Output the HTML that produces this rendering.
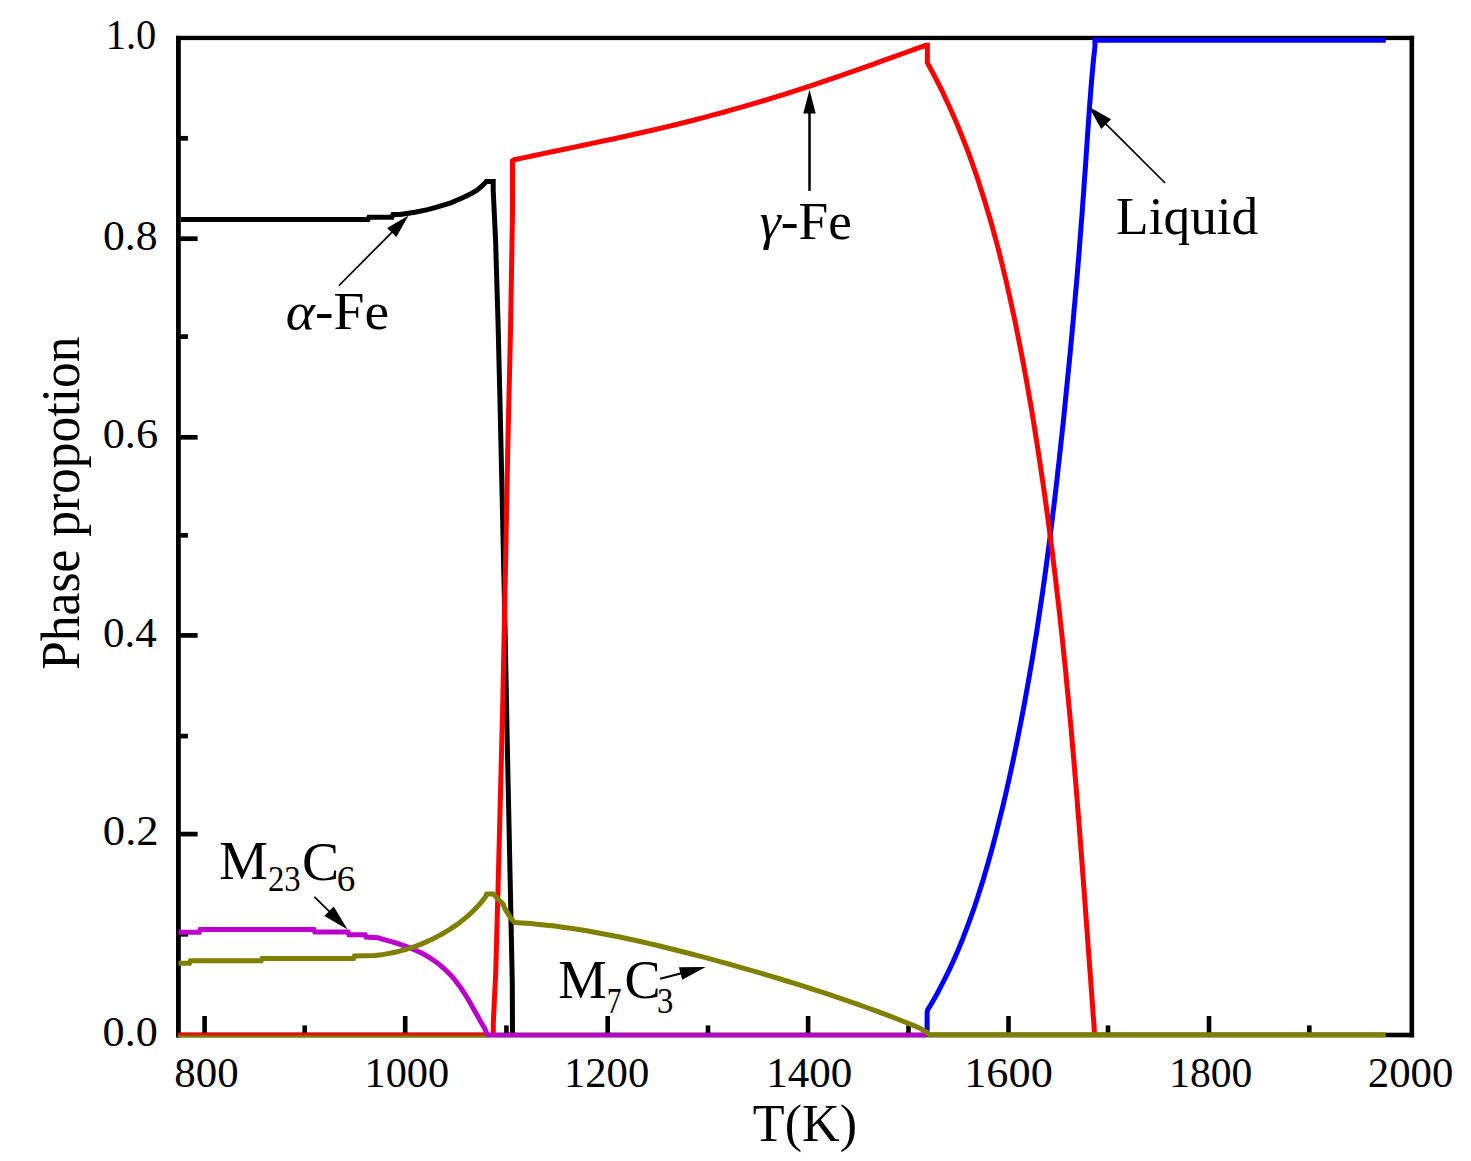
<!DOCTYPE html>
<html><head><meta charset="utf-8"><style>
html,body{margin:0;padding:0;background:#fff;}
body{width:1471px;height:1161px;overflow:hidden;position:relative;}
svg{position:absolute;left:0;top:0;}
text{font-family:"Liberation Serif",serif;fill:#000;}
</style></head><body>
<svg width="1471" height="1161" viewBox="0 0 1471 1161">
<rect width="100%" height="100%" fill="#fff"/>
<g fill="#000">
<rect x="176" y="35.8" width="4.8" height="1001.6"/>
<rect x="1409.5" y="35.8" width="4.6" height="1001.6"/>
<rect x="176" y="35.8" width="1238.1" height="4.3"/>
</g>
<rect x="180" y="931.95" width="7.9" height="4.7" fill="#000"/>
<rect x="180" y="831.75" width="17.6" height="4.7" fill="#000"/>
<rect x="180" y="733.75" width="7.9" height="4.7" fill="#000"/>
<rect x="180" y="633.05" width="17.6" height="4.7" fill="#000"/>
<rect x="180" y="532.95" width="7.9" height="4.7" fill="#000"/>
<rect x="180" y="434.95" width="17.6" height="4.7" fill="#000"/>
<rect x="180" y="334.25" width="7.9" height="4.7" fill="#000"/>
<rect x="180" y="236.35" width="17.6" height="4.7" fill="#000"/>
<rect x="180" y="135.95" width="7.9" height="4.7" fill="#000"/>
<rect x="202.30" y="1016.00" width="4.6" height="17.5" fill="#000"/>
<rect x="302.40" y="1025.40" width="4.6" height="8.1" fill="#000"/>
<rect x="402.90" y="1016.00" width="4.6" height="17.5" fill="#000"/>
<rect x="504.10" y="1025.40" width="4.6" height="8.1" fill="#000"/>
<rect x="605.40" y="1016.00" width="4.6" height="17.5" fill="#000"/>
<rect x="705.70" y="1025.40" width="4.6" height="8.1" fill="#000"/>
<rect x="805.80" y="1016.00" width="4.6" height="17.5" fill="#000"/>
<rect x="906.20" y="1025.40" width="4.6" height="8.1" fill="#000"/>
<rect x="1006.20" y="1016.00" width="4.6" height="17.5" fill="#000"/>
<rect x="1105.70" y="1025.40" width="4.6" height="8.1" fill="#000"/>
<rect x="1206.70" y="1016.00" width="4.6" height="17.5" fill="#000"/>
<rect x="1307.00" y="1025.40" width="4.6" height="8.1" fill="#000"/>
<rect x="176" y="1032.7" width="1238.1" height="4.6" fill="#000"/>
<rect x="178" y="1035.1" width="309" height="2.4" fill="#808000"/>
<rect x="178" y="1032.6" width="309" height="2.5" fill="#ff0000"/>
<polyline points="181.0,219.5 368.0,219.5 369.0,217.2 392.0,217.2 393.0,214.5 400.0,214.5 415.0,212.2 427.7,209.6 435.9,207.4 443.4,205.1 450.8,202.9 456.8,200.3 462.1,198.0 467.3,195.4 471.8,193.2 477.0,190.2 481.5,186.5 484.5,183.5 486.5,181.4 493.2,181.4 493.2,190.0 495.6,241.0 498.0,321.0 500.0,402.0 502.3,504.0 505.0,627.0 507.4,749.0 510.0,872.0 512.3,984.0 512.5,1035.0" fill="none" stroke="#000000" stroke-width="5.0" stroke-linejoin="miter" stroke-miterlimit="3" stroke-linecap="butt" /><polyline points="1385.8,40.3 1094.9,40.3 1095.0,45.7 1094.4,51.7 1093.7,57.7 1093.1,63.7 1092.6,69.7 1092.0,75.7 1091.5,81.7 1091.0,87.7 1090.6,93.7 1090.1,99.7 1089.6,105.7 1089.2,111.7 1088.8,117.7 1088.4,123.7 1087.9,129.7 1087.5,135.7 1087.1,141.7 1086.7,147.7 1086.3,153.7 1085.9,159.7 1085.5,165.7 1085.1,171.7 1084.6,177.7 1084.2,183.7 1083.8,189.7 1083.4,195.7 1082.9,201.7 1082.5,207.7 1082.1,213.7 1081.6,219.7 1081.1,225.7 1080.7,231.7 1080.2,237.7 1079.7,243.7 1079.3,249.7 1078.8,255.7 1078.3,261.7 1077.8,267.7 1077.3,273.7 1076.8,279.7 1076.3,285.7 1075.7,291.7 1075.2,297.7 1074.7,303.7 1074.1,309.7 1073.6,315.7 1073.1,321.7 1072.5,327.7 1072.0,333.7 1071.4,339.7 1070.8,345.7 1070.3,351.7 1069.7,357.7 1069.1,363.7 1068.5,369.7 1067.9,375.7 1067.3,381.7 1066.7,387.7 1066.1,393.7 1065.5,399.7 1064.9,405.7 1064.3,411.7 1063.7,417.7 1063.1,423.7 1062.4,429.7 1061.8,435.7 1061.1,441.7 1060.5,447.7 1059.8,453.7 1059.2,459.7 1058.5,465.7 1057.8,471.7 1057.2,477.7 1056.5,483.7 1055.8,489.7 1055.1,495.7 1054.4,501.7 1053.7,507.7 1052.9,513.7 1052.2,519.7 1051.5,525.7 1050.7,531.7 1050.0,537.7 1049.2,543.7 1048.4,549.7 1047.6,555.7 1046.8,561.7 1046.0,567.7 1045.2,573.7 1044.4,579.7 1043.5,585.7 1042.7,591.7 1041.8,597.7 1040.9,603.7 1040.0,609.7 1039.1,615.7 1038.2,621.7 1037.3,627.7 1036.4,633.7 1035.4,639.7 1034.4,645.7 1033.5,651.7 1032.5,657.7 1031.5,663.7 1030.4,669.7 1029.4,675.7 1028.3,681.7 1027.3,687.7 1026.2,693.7 1025.1,699.7 1024.0,705.7 1022.9,711.7 1021.7,717.7 1020.6,723.7 1019.4,729.7 1018.2,735.7 1017.0,741.7 1015.8,747.7 1014.5,753.7 1013.3,759.7 1012.0,765.7 1010.7,771.7 1009.4,777.7 1008.0,783.7 1006.7,789.7 1005.3,795.7 1003.9,801.7 1002.5,807.7 1001.0,813.7 999.5,819.7 998.0,825.7 996.5,831.7 995.0,837.7 993.4,843.7 991.8,849.7 990.1,855.7 988.4,861.7 986.7,867.7 984.9,873.7 983.2,879.7 981.3,885.7 979.4,891.7 977.5,897.7 975.5,903.7 973.5,909.7 971.4,915.7 969.2,921.7 967.0,927.7 964.7,933.7 962.4,939.7 959.9,945.7 957.4,951.7 954.8,957.7 952.1,963.7 949.3,969.7 946.4,975.7 943.4,981.7 940.3,987.7 937.1,993.7 933.7,999.7 930.2,1005.7 927.7,1009.8 927.1,1012.4 927.1,1035.0" fill="none" stroke="#0000ff" stroke-width="5.0" stroke-linejoin="miter" stroke-miterlimit="3" stroke-linecap="butt" /><polyline points="493.3,1035.0 493.3,1023.0 495.7,973.0 498.0,890.0 500.2,805.0 502.8,701.0 505.3,577.0 507.7,452.0 510.6,326.0 512.5,211.0 512.5,160.8 514.3,159.7 524.3,157.6 534.3,155.5 544.3,153.4 554.3,151.3 564.3,149.2 574.3,147.1 584.3,145.0 594.3,142.9 604.3,140.8 614.3,138.7 624.3,136.5 634.3,134.3 644.3,132.0 654.3,129.7 664.3,127.4 674.3,125.0 684.3,122.5 694.3,120.0 704.3,117.4 714.3,114.7 724.3,112.0 734.3,109.2 744.3,106.4 754.3,103.4 764.3,100.5 774.3,97.4 784.3,94.3 794.3,91.1 804.3,87.9 814.3,84.6 824.3,81.2 834.3,77.8 844.3,74.4 854.3,70.9 864.3,67.3 874.3,63.8 884.3,60.2 894.3,56.6 904.3,53.0 914.3,49.4 922.9,46.3 925.5,45.3 927.4,45.3 927.3,62.7 930.6,68.7 933.8,74.7 936.9,80.7 939.9,86.7 942.9,92.7 945.7,98.7 948.5,104.7 951.2,110.7 953.9,116.7 956.5,122.7 959.0,128.7 961.4,134.7 963.8,140.7 966.1,146.7 968.4,152.7 970.6,158.7 972.7,164.7 974.8,170.7 976.9,176.7 978.9,182.7 980.8,188.7 982.7,194.7 984.6,200.7 986.4,206.7 988.2,212.7 990.0,218.7 991.7,224.7 993.3,230.7 995.0,236.7 996.6,242.7 998.2,248.7 999.7,254.7 1001.2,260.7 1002.7,266.7 1004.1,272.7 1005.6,278.7 1007.0,284.7 1008.3,290.7 1009.7,296.7 1011.0,302.7 1012.3,308.7 1013.6,314.7 1014.9,320.7 1016.1,326.7 1017.3,332.7 1018.5,338.7 1019.7,344.7 1020.9,350.7 1022.0,356.7 1023.2,362.7 1024.3,368.7 1025.4,374.7 1026.5,380.7 1027.5,386.7 1028.6,392.7 1029.6,398.7 1030.7,404.7 1031.7,410.7 1032.7,416.7 1033.7,422.7 1034.6,428.7 1035.6,434.7 1036.5,440.7 1037.5,446.7 1038.4,452.7 1039.3,458.7 1040.2,464.7 1041.1,470.7 1042.0,476.7 1042.9,482.7 1043.7,488.7 1044.6,494.7 1045.4,500.7 1046.3,506.7 1047.1,512.7 1047.9,518.7 1048.7,524.7 1049.5,530.7 1050.3,536.7 1051.0,542.7 1051.8,548.7 1052.6,554.7 1053.3,560.7 1054.0,566.7 1054.8,572.7 1055.5,578.7 1056.2,584.7 1056.9,590.7 1057.6,596.7 1058.3,602.7 1059.0,608.7 1059.7,614.7 1060.3,620.7 1061.0,626.7 1061.6,632.7 1062.3,638.7 1062.9,644.7 1063.5,650.7 1064.1,656.7 1064.8,662.7 1065.4,668.7 1066.0,674.7 1066.5,680.7 1067.1,686.7 1067.7,692.7 1068.3,698.7 1068.8,704.7 1069.4,710.7 1070.0,716.7 1070.5,722.7 1071.1,728.7 1071.6,734.7 1072.1,740.7 1072.6,746.7 1073.2,752.7 1073.7,758.7 1074.2,764.7 1074.7,770.7 1075.2,776.7 1075.7,782.7 1076.2,788.7 1076.7,794.7 1077.2,800.7 1077.6,806.7 1078.1,812.7 1078.6,818.7 1079.1,824.7 1079.5,830.7 1080.0,836.7 1080.5,842.7 1080.9,848.7 1081.4,854.7 1081.8,860.7 1082.3,866.7 1082.7,872.7 1083.2,878.7 1083.6,884.7 1084.1,890.7 1084.5,896.7 1085.0,902.7 1085.4,908.7 1085.8,914.7 1086.3,920.7 1086.7,926.7 1087.2,932.7 1087.6,938.7 1088.0,944.7 1088.5,950.7 1088.9,956.7 1089.4,962.7 1089.8,968.7 1090.3,974.7 1090.7,980.7 1091.1,986.7 1091.6,992.7 1092.0,998.7 1092.5,1004.7 1092.9,1010.7 1093.3,1016.7 1093.8,1022.7 1094.1,1027.0 1094.5,1035.0" fill="none" stroke="#ff0000" stroke-width="5.0" stroke-linejoin="miter" stroke-miterlimit="3" stroke-linecap="butt" /><polyline points="178.5,932.3 199.2,932.3 200.2,929.6 313.8,929.6 314.8,932.1 348.0,932.1 349.0,934.7 365.2,934.7 366.2,937.1 378.1,937.8 381.6,938.8 385.1,939.8 388.7,940.9 392.3,941.9 395.9,943.0 399.5,944.2 403.1,945.4 406.6,946.7 410.2,948.0 413.7,949.5 417.1,951.0 420.5,952.6 423.9,954.3 427.1,956.2 430.3,958.1 433.4,960.2 436.4,962.3 439.4,964.6 442.2,967.0 445.0,969.5 447.7,972.1 450.3,974.7 452.8,977.5 455.2,980.4 457.5,983.4 459.8,986.4 461.9,989.5 464.0,992.7 466.1,996.0 468.1,999.2 470.0,1002.5 471.9,1005.9 473.7,1009.2 475.6,1012.5 477.4,1015.8 479.2,1019.1 481.0,1022.3 482.9,1025.4 484.8,1028.5 486.4,1032.7 487.5,1035.0" fill="none" stroke="#bc00cc" stroke-width="5.0" stroke-linejoin="miter" stroke-miterlimit="3" stroke-linecap="butt" />
<rect x="486.5" y="1032.8" width="440" height="4.5" fill="#bc00cc"/>
<polyline points="178.5,963.3 189.5,963.3 190.5,960.8 261.2,960.8 262.2,958.4 353.5,958.4 354.5,955.9 374.9,955.6 379.4,955.0 383.8,954.4 388.2,953.6 392.6,952.7 396.9,951.8 401.2,950.7 405.5,949.5 409.7,948.2 413.9,946.8 418.0,945.3 422.2,943.7 426.2,941.9 430.3,940.1 434.3,938.2 438.2,936.1 442.1,934.0 446.0,931.7 449.8,929.4 453.5,926.9 457.2,924.4 460.7,921.7 464.2,918.9 467.6,916.1 470.9,913.1 474.1,910.0 477.1,906.9 480.1,903.6 482.9,900.2 485.5,896.8 486.6,893.9 493.1,893.9 496.1,897.1 499.5,900.5 503.0,904.0 504.7,908.3 507.3,912.6 509.9,916.9 512.5,920.3 514.6,922.6 522.6,923.0 530.6,923.6 538.6,924.4 546.6,925.2 554.6,926.1 562.6,927.2 570.6,928.3 578.6,929.5 586.6,930.8 594.6,932.2 602.6,933.7 610.6,935.2 618.6,936.8 626.6,938.5 634.6,940.2 642.6,942.0 650.6,943.9 658.6,945.7 666.6,947.7 674.6,949.7 682.6,951.7 690.6,953.7 698.6,955.8 706.6,957.9 714.6,960.1 722.6,962.3 730.6,964.5 738.6,966.8 746.6,969.1 754.6,971.4 762.6,973.7 770.6,976.1 778.6,978.5 786.6,981.0 794.6,983.4 802.6,985.9 810.6,988.5 818.6,991.1 826.6,993.7 834.6,996.4 842.6,999.1 850.6,1001.8 858.6,1004.6 866.6,1007.5 874.6,1010.4 882.6,1013.4 890.6,1016.4 898.6,1019.5 906.6,1022.7 914.6,1025.9 920.4,1028.4 926.8,1032.3 929.0,1034.8 1385.8,1034.8" fill="none" stroke="#808000" stroke-width="5.0" stroke-linejoin="miter" stroke-miterlimit="3" stroke-linecap="butt" />
<line x1="339.0" y1="285.5" x2="393.1" y2="231.1" stroke="#000" stroke-width="1.7"/>
<polygon points="408.6,215.5 396.3,237.1 387.1,227.9" fill="#000"/>
<line x1="809.5" y1="190.9" x2="809.5" y2="111.5" stroke="#000" stroke-width="2.5"/>
<polygon points="809.5,89.5 815.7,113.5 803.3,113.5" fill="#000"/>
<line x1="1165.1" y1="183.0" x2="1104.8" y2="122.8" stroke="#000" stroke-width="1.7"/>
<polygon points="1088.5,106.5 1111.1,119.2 1101.2,129.1" fill="#000"/>
<line x1="314.4" y1="896.9" x2="330.5" y2="912.7" stroke="#000" stroke-width="1.7"/>
<polygon points="347.6,929.5 324.4,916.0 333.7,906.6" fill="#000"/>
<line x1="660.2" y1="978.8" x2="682.5" y2="973.0" stroke="#000" stroke-width="2.0"/>
<polygon points="705.7,966.9 682.2,979.8 678.9,967.2" fill="#000"/>
<text x="105.74" y="49.30" font-size="42" textLength="50.60" lengthAdjust="spacingAndGlyphs">1.0</text>
<text x="102.92" y="250.30" font-size="42" textLength="54.54" lengthAdjust="spacingAndGlyphs">0.8</text>
<text x="102.69" y="448.00" font-size="42" textLength="55.39" lengthAdjust="spacingAndGlyphs">0.6</text>
<text x="102.95" y="647.20" font-size="42" textLength="53.76" lengthAdjust="spacingAndGlyphs">0.4</text>
<text x="102.88" y="845.30" font-size="42" textLength="55.78" lengthAdjust="spacingAndGlyphs">0.2</text>
<text x="102.60" y="1046.40" font-size="42" textLength="55.18" lengthAdjust="spacingAndGlyphs">0.0</text>
<text x="174.36" y="1087.20" font-size="42" textLength="64.28" lengthAdjust="spacingAndGlyphs">800</text>
<text x="364.47" y="1087.20" font-size="42" textLength="84.65" lengthAdjust="spacingAndGlyphs">1000</text>
<text x="563.94" y="1087.00" font-size="42" textLength="85.29" lengthAdjust="spacingAndGlyphs">1200</text>
<text x="766.30" y="1087.20" font-size="42" textLength="86.05" lengthAdjust="spacingAndGlyphs">1400</text>
<text x="964.18" y="1087.00" font-size="42" textLength="88.63" lengthAdjust="spacingAndGlyphs">1600</text>
<text x="1169.24" y="1086.60" font-size="42" textLength="83.14" lengthAdjust="spacingAndGlyphs">1800</text>
<text x="1367.76" y="1086.60" font-size="42" textLength="85.58" lengthAdjust="spacingAndGlyphs">2000</text>
<text x="752.83" y="1141.30" font-size="53.5" textLength="104.18" lengthAdjust="spacingAndGlyphs">T(K)</text>
<text transform="translate(79.30,669.86) rotate(-90)" x="0" y="0" font-size="55.5" textLength="333.36" lengthAdjust="spacingAndGlyphs">Phase propotion</text>
<text x="285.82" y="328.80" font-size="53.5" textLength="103.25" lengthAdjust="spacingAndGlyphs"><tspan font-style="italic">α</tspan>-Fe</text>
<text x="759.70" y="239.00" font-size="53.5" textLength="92.11" lengthAdjust="spacingAndGlyphs"><tspan font-style="italic">γ</tspan>-Fe</text>
<text x="1116.11" y="234.30" font-size="53.5" textLength="142.16" lengthAdjust="spacingAndGlyphs">Liquid</text>
<text x="219.39" y="879.00" font-size="54.5" textLength="48.68" lengthAdjust="spacingAndGlyphs">M</text>
<text x="267.93" y="891.00" font-size="35" textLength="32.81" lengthAdjust="spacingAndGlyphs">23</text>
<text x="301.95" y="879.50" font-size="54.5" textLength="37.18" lengthAdjust="spacingAndGlyphs">C</text>
<text x="336.68" y="891.00" font-size="35" textLength="18.55" lengthAdjust="spacingAndGlyphs">6</text>
<text x="558.20" y="998.20" font-size="54.5" textLength="48.47" lengthAdjust="spacingAndGlyphs">M</text>
<text x="606.71" y="1013.30" font-size="35" textLength="14.82" lengthAdjust="spacingAndGlyphs">7</text>
<text x="624.51" y="998.40" font-size="54.5" textLength="36.12" lengthAdjust="spacingAndGlyphs">C</text>
<text x="656.93" y="1012.80" font-size="35" textLength="16.38" lengthAdjust="spacingAndGlyphs">3</text>
</svg>
</body></html>
